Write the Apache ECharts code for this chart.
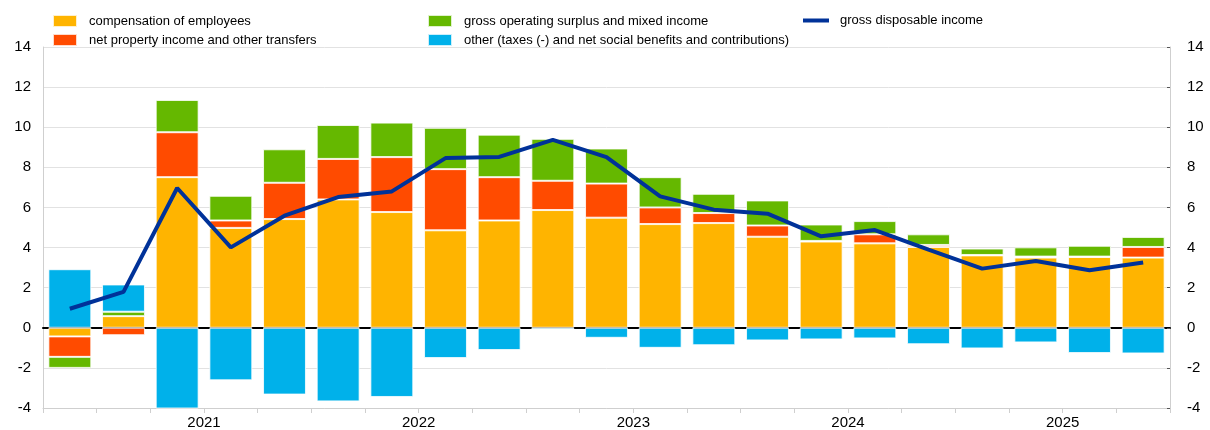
<!DOCTYPE html>
<html>
<head>
<meta charset="utf-8">
<script src="https://cdn.jsdelivr.net/npm/echarts@6/dist/echarts.min.js"></script>
<style>
  html, body { margin: 0; padding: 0; background: #fff; }
  #chart { width: 1210px; height: 430px; }
</style>
</head>
<body>
<div id="chart"></div>
<script>
// quarters, 2020Q4 .. 2025Q4
const quarters = [
  '2020Q4',
  '2021Q1', '2021Q2', '2021Q3', '2021Q4',
  '2022Q1', '2022Q2', '2022Q3', '2022Q4',
  '2023Q1', '2023Q2', '2023Q3', '2023Q4',
  '2024Q1', '2024Q2', '2024Q3', '2024Q4',
  '2025Q1', '2025Q2', '2025Q3', '2025Q4',
];

const compensation = [-0.43, 0.58, 7.51, 4.98, 5.42, 6.40, 5.77, 4.86, 5.35, 5.87, 5.49,
  5.17, 5.22, 4.54, 4.30, 4.21, 4.03, 3.61, 3.50, 3.53, 3.50];
const netProperty = [-1.02, -0.37, 2.24, 0.37, 1.81, 2.02, 2.74, 3.05, 2.16, 1.46, 1.70,
  0.83, 0.50, 0.56, 0.03, 0.45, 0.10, 0.02, 0.05, 0.02, 0.53];
const operatingSurplus = [-0.55, 0.22, 1.61, 1.23, 1.67, 1.69, 1.72, 2.06, 2.12, 2.09, 1.75,
  1.51, 0.96, 1.25, 0.82, 0.66, 0.53, 0.32, 0.46, 0.54, 0.50];
const otherTaxes = [2.92, 1.36, -4.39, -2.62, -3.33, -3.67, -3.45, -1.51, -1.11, -0.08, -0.50,
  -1.00, -0.87, -0.63, -0.58, -0.53, -0.82, -1.03, -0.73, -1.26, -1.28];
const disposableIncome = [0.95, 1.79, 6.97, 4.01, 5.59, 6.52, 6.80, 8.46, 8.52, 9.37, 8.51,
  6.55, 5.89, 5.69, 4.56, 4.87, 3.90, 2.95, 3.33, 2.87, 3.26];

// year labels sit on the boundary ticks in the middle of each year
const yearTickPos = [3, 7, 11, 15, 19];
const yearLabels = ['2021', '2022', '2023', '2024', '2025'];

const FONT = '"Liberation Sans", Arial, sans-serif';
const names = {
  comp: 'compensation of employees',
  prop: 'net property income and other transfers',
  gos: 'gross operating surplus and mixed income',
  other: 'other (taxes (-) and net social benefits and contributions)',
  gdi: 'gross disposable income',
};

const chart = echarts.init(document.getElementById('chart'));

const barSeries = (name, data, color) => ({
  name: name,
  type: 'bar',
  stack: 'total',
  data: data,
  barCategoryGap: '20%',
  itemStyle: { color: color, borderColor: 'rgba(255,255,255,0.8)', borderWidth: 1 },
  emphasis: { disabled: true },
});

const legendBase = {
  orient: 'vertical',
  padding: 0,
  itemWidth: 24,
  itemHeight: 12,
  itemGap: 5,
  icon: 'rect',
  selectedMode: false,
  textStyle: { fontFamily: FONT, fontSize: 13, color: '#000', lineHeight: 12, padding: [0, 0, 0, 7] },
};

chart.setOption({
  animation: false,
  textStyle: { fontFamily: FONT },
  legend: [
    Object.assign({}, legendBase, { left: 52, top: 14, data: [names.comp, names.prop] }),
    Object.assign({}, legendBase, { left: 427, top: 14, data: [names.gos, names.other] }),
    Object.assign({}, legendBase, { left: 803, top: 14, itemWidth: 26, itemHeight: 4,
      textStyle: Object.assign({}, legendBase.textStyle, { padding: [0, 0, 0, 6] }),
      data: [names.gdi] }),
  ],
  grid: { left: 43, right: 40, top: 47, bottom: 21 },
  xAxis: [
    {
      type: 'category',
      data: quarters,
      boundaryGap: true,
      axisLine: { onZero: true, lineStyle: { color: '#000', width: 2 } },
      axisTick: { show: false },
      axisLabel: { show: false },
      splitLine: { show: false },
    },
    {
      type: 'value',
      position: 'bottom',
      min: 0,
      max: quarters.length,
      interval: 1,
      axisLine: { onZero: false, lineStyle: { color: '#cfcfcf' } },
      axisTick: { show: true, length: 5, lineStyle: { color: '#cfcfcf' } },
      splitLine: { show: false },
      axisLabel: {
        margin: 7,
        fontSize: 15,
        color: '#000',
        showMinLabel: true,
        showMaxLabel: true,
        formatter: (v) => {
          const i = yearTickPos.indexOf(Math.round(v));
          return i >= 0 ? yearLabels[i] : '';
        },
      },
    },
  ],
  yAxis: [
    {
      type: 'value',
      position: 'left',
      min: -4,
      max: 14,
      interval: 2,
      axisLine: { show: true, lineStyle: { color: '#cfcfcf' } },
      axisTick: { show: false },
      axisLabel: { fontSize: 15, color: '#000', margin: 12 },
      splitLine: { lineStyle: { color: '#e2e2e2', width: 1 } },
    },
    {
      type: 'value',
      position: 'right',
      min: -4,
      max: 14,
      interval: 2,
      axisLine: { show: true, lineStyle: { color: '#cfcfcf' } },
      axisTick: { show: true, inside: true, length: 3, lineStyle: { color: '#555' } },
      axisLabel: { fontSize: 15, color: '#000', margin: 17 },
      splitLine: { show: false },
    },
  ],
  series: [
    barSeries(names.comp, compensation, '#FFB400'),
    barSeries(names.prop, netProperty, '#FF4B00'),
    barSeries(names.gos, operatingSurplus, '#65B800'),
    barSeries(names.other, otherTaxes, '#00B1EA'),
    {
      name: names.gdi,
      type: 'line',
      data: disposableIncome,
      symbol: 'none',
      z: 5,
      itemStyle: { color: '#003299' },
      lineStyle: { color: '#003299', width: 4 },
      emphasis: { disabled: true },
    },
  ],
});
</script>
</body>
</html>
